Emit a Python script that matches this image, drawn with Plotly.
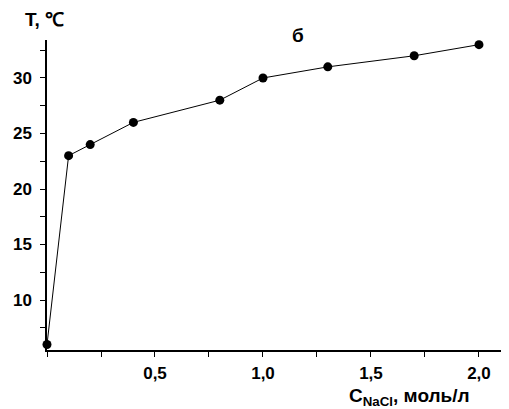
import plotly.graph_objects as go

conc = [0, 0.1, 0.2, 0.4, 0.8, 1.0, 1.3, 1.7, 2.0]
temp = [6, 23, 24, 26, 28, 30, 31, 32, 33]
x_tickvals = [0.5, 1.0, 1.5, 2.0]
x_ticktext = ["0,5", "1,0", "1,5", "2,0"]
y_tickvals = [10, 15, 20, 25, 30]
y_ticktext = ["10", "15", "20", "25", "30"]

FONT = "Liberation Sans"

fig = go.Figure()
fig.add_trace(go.Scatter(
    x=conc, y=temp, mode="lines+markers",
    line=dict(color="black", width=1),
    marker=dict(color="black", size=9),
    cliponaxis=False, showlegend=False,
))

tickfont = dict(family=FONT, size=17, color="black", weight="bold")

# page has an 8px body margin; figure is sized to fill the rest of the window
fig.update_layout(
    width=501, height=401,
    margin=dict(l=39, r=0, t=32, b=59, autoexpand=False),
    plot_bgcolor="white", paper_bgcolor="white",
    font=dict(family=FONT, size=16, color="black"),
    xaxis=dict(
        range=[0, 2.139], showgrid=False, zeroline=False, automargin=False,
        showline=True, linecolor="black", linewidth=1.5,
        ticks="outside", ticklen=5, tickwidth=1, tickcolor="black",
        tickvals=x_tickvals, ticktext=x_ticktext, tickfont=tickfont,
        ticklabelstandoff=2,
        minor=dict(dtick=0.25, tick0=0, ticks="outside", ticklen=5, tickcolor="black", showgrid=False),
    ),
    yaxis=dict(
        range=[5.5, 33.42], showgrid=False, zeroline=False, automargin=False,
        showline=True, linecolor="black", linewidth=1.5,
        ticks="outside", ticklen=5, tickwidth=1, tickcolor="black",
        tickvals=y_tickvals, ticktext=y_ticktext, tickfont=tickfont,
        ticklabelstandoff=5,
        minor=dict(dtick=2.5, tick0=0, ticks="outside", ticklen=5, tickcolor="black", showgrid=False),
    ),
    annotations=[
        dict(text="<b>T, ℃</b>", xref="paper", yref="paper", x=-0.052, y=1.066,
             xanchor="left", yanchor="middle", showarrow=False,
             font=dict(family=FONT, size=19, color="black")),
        dict(text="<b>б</b>", xref="paper", yref="paper", x=0.543, y=1.016,
             xanchor="center", yanchor="middle", showarrow=False,
             font=dict(family=FONT, size=19, color="black")),
        dict(text="<b>C<sub>NaCl</sub>, моль/л</b>", xref="paper", yref="paper", x=0.92, y=-0.152,
             xanchor="right", yanchor="middle", showarrow=False,
             font=dict(family=FONT, size=19, color="black")),
    ],
)

fig.write_html("out.html")
